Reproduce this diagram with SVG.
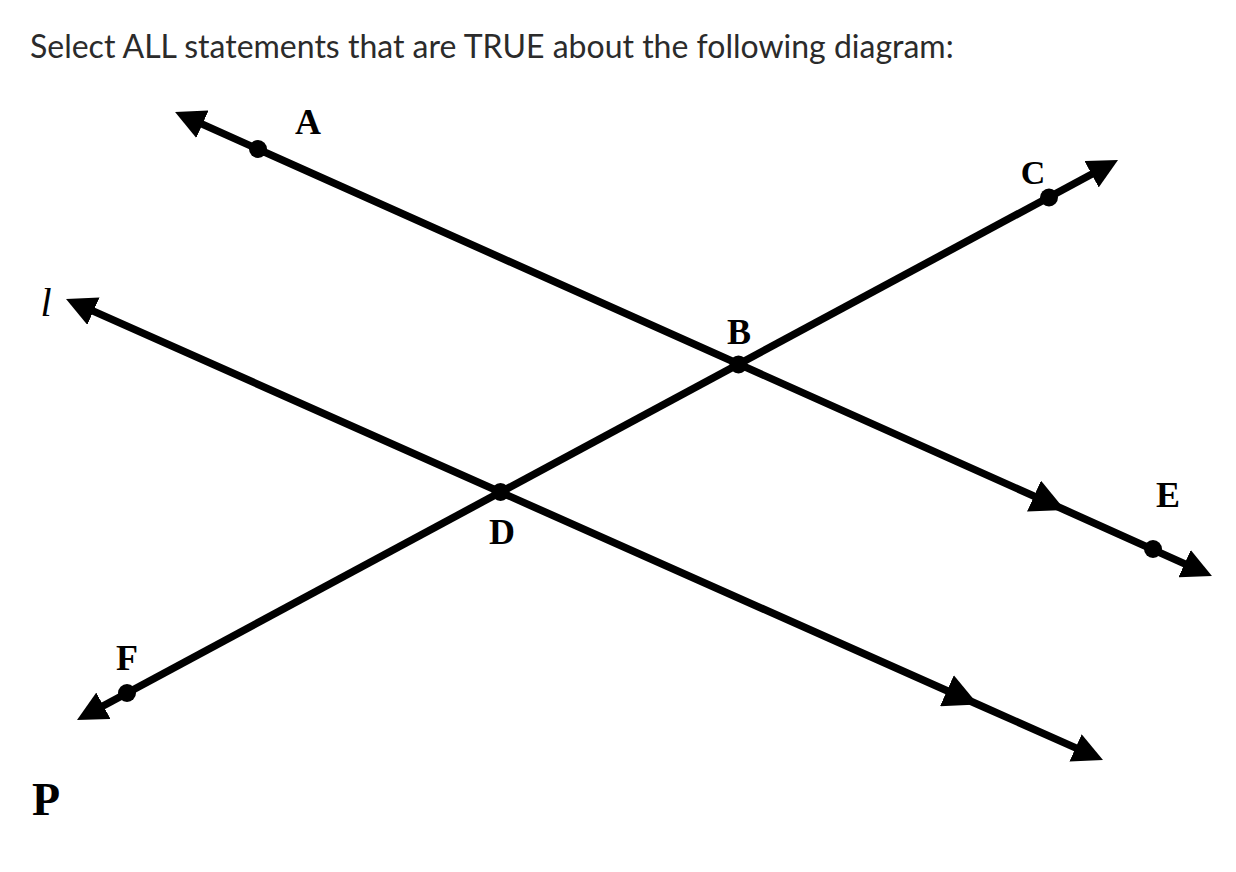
<svg xmlns="http://www.w3.org/2000/svg" width="1236" height="872" viewBox="0 0 1236 872">
<style>
.ln{stroke:#000;stroke-width:7.5;fill:none}
.dot{fill:#000}
.lbl{font-family:"Liberation Serif",serif;font-weight:bold;font-size:36px;fill:#000;text-anchor:middle}
.title{font-family:Lato,"Liberation Sans",sans-serif;font-size:32px;fill:#2b2b2b}
</style>
<defs>
<marker id="ah" markerUnits="userSpaceOnUse" viewBox="0 0 30 30" refX="10" refY="15" markerWidth="30" markerHeight="30" orient="auto-start-reverse"><path d="M0,0 L30,15 L0,30 z" fill="#000"/></marker>
<marker id="par" markerUnits="userSpaceOnUse" viewBox="0 0 34 34" refX="34" refY="17" markerWidth="34" markerHeight="34" orient="auto"><path d="M0,0 L34,17 L0,34 z" fill="#000"/></marker>
</defs>
<rect width="1236" height="872" fill="#fff"/>
<text class="title" x="30" y="58">Select ALL statements that are TRUE about the following diagram:</text>
<g id="connectors">
<path id="lineAE" class="ln" d="M193.3,120.2 L1065,510 L1193.7,567.8" marker-start="url(#ah)" marker-mid="url(#par)" marker-end="url(#ah)"/>
<path id="lineL" class="ln" d="M84.3,307.1 L978,704.5 L1084.7,751.9" marker-start="url(#ah)" marker-mid="url(#par)" marker-end="url(#ah)"/>
<path id="lineFC" class="ln" d="M94.6,710.5 L1100.4,169.5" marker-start="url(#ah)" marker-end="url(#ah)"/>
</g>
<g id="A"><circle class="dot" cx="258" cy="149" r="9"/><text class="lbl" x="308" y="134">A</text></g>
<g id="B"><circle class="dot" cx="738.5" cy="364.5" r="9"/><text class="lbl" x="739" y="344">B</text></g>
<g id="C"><circle class="dot" cx="1049" cy="197.5" r="9"/><text class="lbl" x="1033" y="184" style="font-size:34px">C</text></g>
<g id="D"><circle class="dot" cx="500.5" cy="492" r="9"/><text class="lbl" x="502" y="544">D</text></g>
<g id="E"><circle class="dot" cx="1153" cy="549" r="9"/><text class="lbl" x="1168" y="507">E</text></g>
<g id="F"><circle class="dot" cx="127" cy="693" r="9"/><text class="lbl" x="127" y="670">F</text></g>
<g id="l"><text x="46" y="316" style="font-family:'Liberation Serif',serif;font-style:italic;font-size:40px;fill:#000;text-anchor:middle">l</text></g>
<g id="P"><text class="lbl" x="46" y="815" style="font-size:46px">P</text></g>
</svg>
